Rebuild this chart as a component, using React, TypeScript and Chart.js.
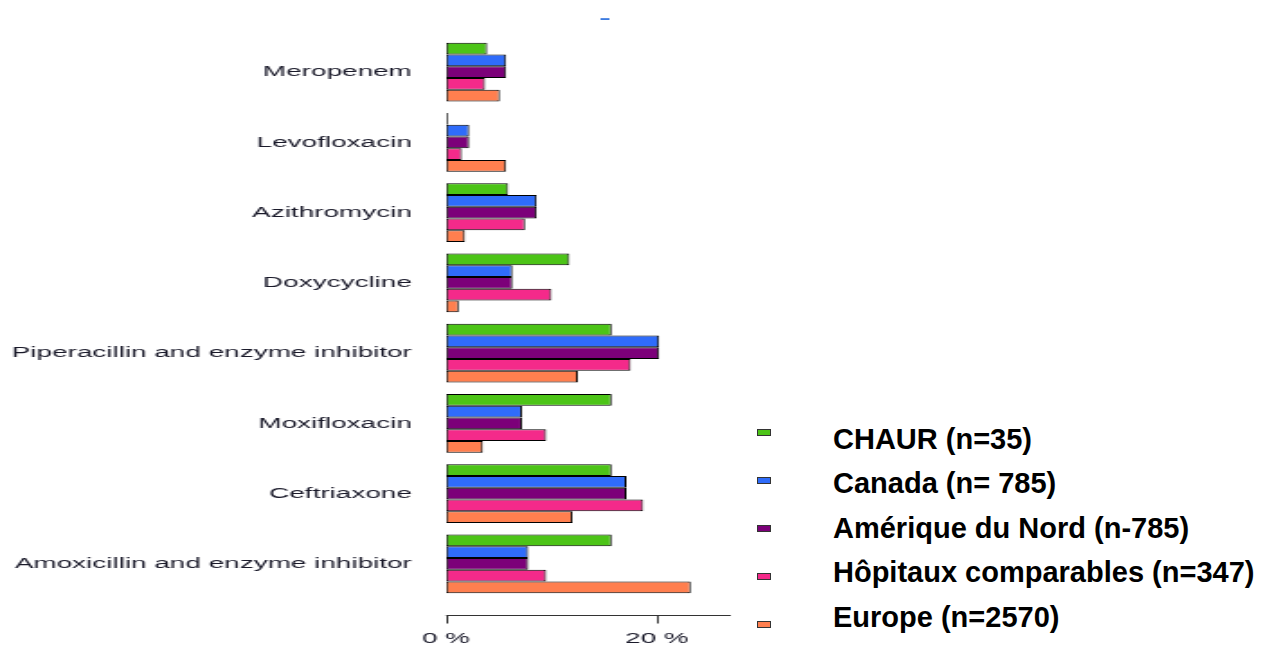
import React, { useEffect, useRef } from "react";
import { Chart, registerables } from "chart.js";

Chart.register(...registerables);

// ---- data ----
const categories = [
  "Meropenem",
  "Levofloxacin",
  "Azithromycin",
  "Doxycycline",
  "Piperacillin and enzyme inhibitor",
  "Moxifloxacin",
  "Ceftriaxone",
  "Amoxicillin and enzyme inhibitor",
];
const seriesNames = [
  "CHAUR (n=35)",
  "Canada (n= 785)",
  "Amérique du Nord (n-785)",
  "Hôpitaux comparables (n=347)",
  "Europe (n=2570)",
];
const chaur = [3.9, 0, 5.9, 11.7, 15.7, 15.7, 15.7, 15.7];
const canada = [5.7, 2.2, 8.6, 6.3, 20.2, 7.2, 17.1, 7.8];
const amerique = [5.7, 2.2, 8.6, 6.3, 20.2, 7.2, 17.1, 7.8];
const hopitaux = [3.7, 1.5, 7.5, 10.0, 17.5, 9.5, 18.7, 9.5];
const europe = [5.1, 5.7, 1.8, 1.2, 12.5, 3.5, 12.0, 23.2];
const xTicks = [0, 20];
const xMax = 27;
const titleText = "–";

// ---- styles ----
const colors = ["#4CC417", "#2F6CFA", "#7C0079", "#F42A8A", "#FF7F4F"];
const S = 1.8; // horizontal stretch of the plot
const CANVAS_W = 420;
const CANVAS_H = 647;
const FONT = "'Liberation Sans', Arial, Helvetica, sans-serif";

const axisPlugin = {
  id: "offsetAxis",
  afterDraw(chart: any) {
    const { ctx, chartArea } = chart;
    const x = chart.scales.x;
    const y = Math.round(chartArea.bottom + 16) + 0.5;
    ctx.save();
    ctx.strokeStyle = "#333";
    ctx.lineWidth = 1;
    ctx.beginPath();
    ctx.moveTo(x.getPixelForValue(0), y);
    ctx.lineTo(x.getPixelForValue(xMax), y);
    x.ticks.forEach((t: any) => {
      const px = Math.round(x.getPixelForValue(t.value)) + 0.5;
      ctx.moveTo(px, y);
      ctx.lineTo(px, y + 8);
    });
    ctx.stroke();
    ctx.restore();
  },
};

export default function App() {
  const ref = useRef<HTMLCanvasElement | null>(null);

  useEffect(() => {
    if (!ref.current) return;
    const series = [chaur, canada, amerique, hopitaux, europe];
    const chart = new Chart(ref.current, {
      type: "bar",
      data: {
        labels: categories,
        datasets: series.map((d, i) => ({
          label: seriesNames[i],
          data: d,
          backgroundColor: colors[i],
          borderColor: "#000",
          borderWidth: 1,
          borderSkipped: false,
          minBarLength: 1,
          categoryPercentage: 0.833,
          barPercentage: 1,
        })),
      },
      options: {
        indexAxis: "y",
        responsive: false,
        animation: false,
        layout: { padding: { top: 37, right: 14, left: 0, bottom: 0 } },
        plugins: {
          legend: { display: false },
          tooltip: { enabled: false },
          title: { display: false },
        },
        scales: {
          x: {
            type: "linear",
            min: 0,
            max: xMax,
            grid: { display: false, drawTicks: false },
            border: { display: false },
            afterBuildTicks: (scale: any) => {
              scale.ticks = xTicks.map((v) => ({ value: v }));
            },
            afterFit: (scale: any) => {
              scale.height = 48;
            },
            ticks: {
              padding: 30,
              color: "#1a1a2a",
              font: { family: FONT, size: 15.5 },
              maxRotation: 0,
              callback: (v: any) => `${v} %`,
            },
          },
          y: {
            type: "category",
            grid: { display: false, drawTicks: false },
            border: { display: false },
            afterFit: (scale: any) => {
              scale.width = 446 / S;
            },
            ticks: {
              padding: 19,
              autoSkip: false,
              color: "#1a1a2a",
              font: { family: FONT, size: 15.5 },
            },
          },
        },
      },
      plugins: [axisPlugin],
    } as any);
    return () => chart.destroy();
  }, []);

  return (
    <div
      style={{
        position: "fixed",
        left: 0,
        top: 0,
        width: 1265,
        height: 647,
        background: "#fff",
        overflow: "hidden",
      }}
    >
      <div
        style={{
          position: "absolute",
          left: 0,
          top: 0,
          width: CANVAS_W,
          height: CANVAS_H,
          transform: `scaleX(${S})`,
          transformOrigin: "0 0",
        }}
      >
        <canvas ref={ref} width={CANVAS_W} height={CANVAS_H} />
      </div>
      <div
        style={{
          position: "absolute",
          left: 600,
          top: 9,
          fontFamily: FONT,
          fontSize: 18,
          fontWeight: "bold",
          lineHeight: "18px",
          color: "#3D7BE0",
        }}
      >
        {titleText}
      </div>
      {seriesNames.map((name, i) => (
        <React.Fragment key={name}>
          <div
            style={{
              position: "absolute",
              left: 757,
              top: 432 + 48 * i - 3.5,
              width: 14,
              height: 7,
              boxSizing: "border-box",
              border: "1px solid #333",
              background: colors[i],
            }}
          />
          <div
            style={{
              position: "absolute",
              left: 833,
              top: 449 + 44.5 * i - 24.5,
              fontFamily: FONT,
              fontWeight: "bold",
              fontSize: 29,
              lineHeight: "29px",
              color: "#000",
              whiteSpace: "nowrap",
            }}
          >
            {name}
          </div>
        </React.Fragment>
      ))}
    </div>
  );
}
